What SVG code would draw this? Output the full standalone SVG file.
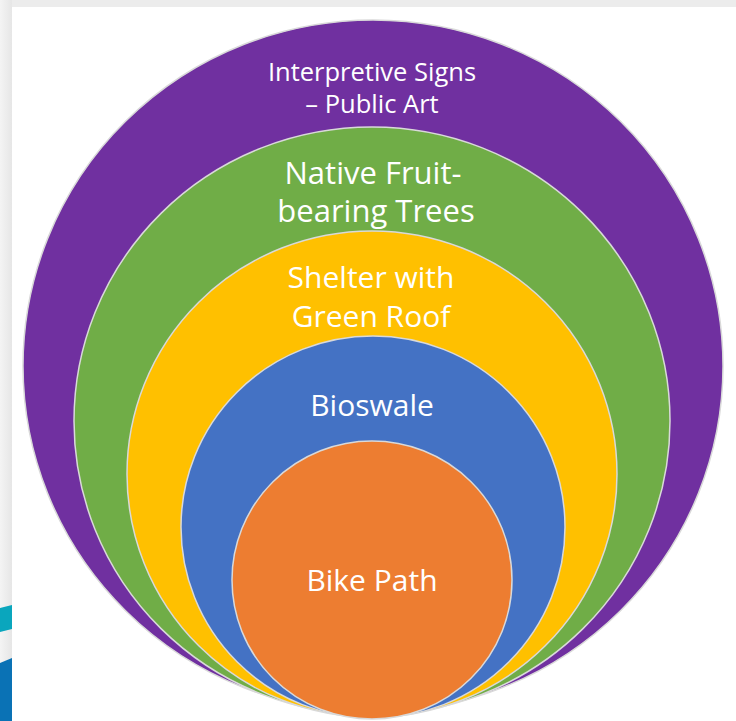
<svg xmlns="http://www.w3.org/2000/svg" width="736" height="721" viewBox="0 0 736 721">
  <style>
    .ring { stroke: #d9d9d9; stroke-width: 1.5; }
    .lbl { fill: #ffffff; font-family: "Open Sans", "Noto Sans", "Liberation Sans", sans-serif; text-anchor: middle; }
  </style>
  <defs>
    <linearGradient id="side" x1="0" y1="0" x2="1" y2="0">
      <stop offset="0" stop-color="#f4f4f4"/>
      <stop offset="1" stop-color="#e6e6e6"/>
    </linearGradient>
  </defs>
  <rect x="0" y="0" width="736" height="721" fill="#ffffff"/>
  <rect x="0" y="0" width="736" height="7" fill="#ececec"/>
  <rect x="0" y="0" width="12" height="721" fill="url(#side)"/>
  <polygon points="0,608 12,605 12,629 0,632" fill="#0aa6bd"/>
  <polygon points="0,663 12,658 12,721 0,721" fill="#0a72b5"/>

  <g id="interpretive-signs">
    <ellipse class="ring" cx="373" cy="366" rx="350" ry="346" fill="#7030a0"/>
    <text class="lbl" x="372" y="81" font-size="25.5">Interpretive Signs</text>
    <text class="lbl" x="372" y="113" font-size="25.5">– Public Art</text>
  </g>
  <g id="native-trees">
    <ellipse class="ring" cx="372" cy="421" rx="298" ry="294" fill="#70ad47"/>
    <text class="lbl" x="373" y="184" font-size="31">Native Fruit-</text>
    <text class="lbl" x="376" y="222" font-size="31">bearing Trees</text>
  </g>
  <g id="shelter">
    <ellipse class="ring" cx="372" cy="474" rx="245" ry="243" fill="#ffc000"/>
    <text class="lbl" x="371" y="288" font-size="30">Shelter with</text>
    <text class="lbl" x="371" y="327" font-size="30">Green Roof</text>
  </g>
  <g id="bioswale">
    <ellipse class="ring" cx="373" cy="527" rx="192" ry="191" fill="#4472c4"/>
    <text class="lbl" x="372" y="416" font-size="30">Bioswale</text>
  </g>
  <g id="bike-path">
    <ellipse class="ring" cx="372" cy="580" rx="140" ry="139" fill="#ed7d31"/>
    <text class="lbl" x="372" y="591" font-size="30">Bike Path</text>
  </g>
  <g id="connectors"/>
</svg>
